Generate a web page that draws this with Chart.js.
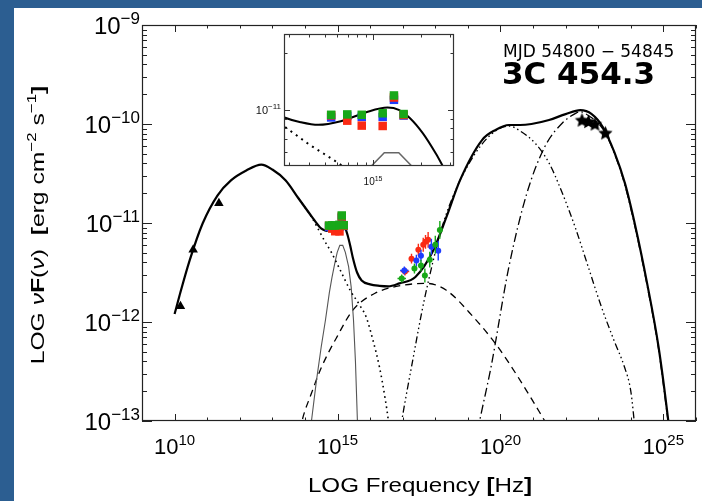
<!DOCTYPE html>
<html>
<head>
<meta charset="utf-8">
<title>3C 454.3 SED</title>
<style>
  html, body { margin: 0; padding: 0; background: #2c5e91; }
  #wrap { position: relative; width: 702px; height: 501px; overflow: hidden; }
  #main { position: absolute; left: 0; top: 0; }
  #inset { position: absolute; left: 250px; top: 28px; }
</style>
<script src="https://cdn.jsdelivr.net/npm/chart.js@4/dist/chart.umd.min.js"></script>
</head>
<body>
<div id="wrap">
  <canvas id="main" width="702" height="501"></canvas>
  <canvas id="inset" width="210" height="165"></canvas>
</div>
<script>
// ---- Observations (log10 of frequency [Hz] and of nuF(nu) [erg cm^-2 s^-1]) ----
const radioLogNu = [10.18, 10.57, 11.36];
const radioLogF  = [-11.84, -11.27, -10.80];

const latLogNu = [22.50, 22.70, 22.90, 23.22];
const latLogF  = [-9.96, -9.975, -10.00, -10.09];

// UVOT filters V, B, U, UVW1, UVM2, UVW2
const uvotLogNu     = [14.74, 14.84, 14.93, 15.06, 15.13, 15.19];
const uvotGreenLogF = [-11.026, -11.024, -11.026, -11.018, -10.924, -11.022];
const uvotRedLogF   = [-11.029, -11.057, -11.083, -11.085, -10.935, -11.027];
const uvotBlueLogF  = [-11.040, -11.032, -11.037, -11.037, -10.947, -11.030];

// XRT spectra (three epochs)
const xrtRedLogNu   = [17.07, 17.27, 17.48, 17.63, 17.70, 17.78];
const xrtRedLogF    = [-11.49, -11.36, -11.27, -11.22, -11.19, -11.17];
const xrtRedErrF    = [0.04, 0.05, 0.06, 0.07, 0.07, 0.08];
const xrtRedErrNu   = [0.13, 0.06, 0.04, 0.03, 0.03, 0.03];
const xrtBlueLogNu  = [17.05, 17.42, 17.56, 17.88, 18.09];
const xrtBlueLogF   = [-11.48, -11.38, -11.33, -11.24, -11.28];
const xrtBlueErrF   = [0.04, 0.06, 0.06, 0.08, 0.10];
const xrtBlueErrNu  = [0.13, 0.05, 0.04, 0.03, 0.03];
const xrtGreenLogNu = [16.97, 17.36, 17.56, 17.68, 17.83, 18.00, 18.14];
const xrtGreenLogF  = [-11.56, -11.46, -11.43, -11.53, -11.37, -11.22, -11.07];
const xrtGreenErrF  = [0.04, 0.05, 0.06, 0.07, 0.08, 0.09, 0.09];
const xrtGreenErrNu = [0.13, 0.05, 0.04, 0.03, 0.03, 0.03, 0.03];

// ---- Model components ----
const totalLogNu = [10.0, 10.15, 10.46, 10.86, 11.32, 11.73, 12.2, 12.66, 13.0, 13.41, 13.8, 14.22, 14.45, 14.55, 14.66, 14.8, 14.95, 15.09, 15.16, 15.23, 15.31, 15.39, 15.47, 15.6, 15.74, 16.0, 16.29, 16.56, 16.9, 17.39, 17.94, 18.34, 18.76, 19.44, 19.85, 20.26, 20.6, 20.95, 21.49, 22.0, 22.45, 22.8, 23.14, 23.5, 23.82, 24.15, 24.5, 24.85, 25.15, 25.25];
const totalLogF  = [-11.92, -11.735, -11.38, -11.005, -10.72, -10.57, -10.47, -10.41, -10.46, -10.57, -10.75, -10.94, -11.04, -11.065, -11.079, -11.06, -11.015, -10.988, -11.0, -11.044, -11.124, -11.23, -11.35, -11.5, -11.58, -11.62, -11.635, -11.64, -11.61, -11.545, -11.275, -10.94, -10.567, -10.16, -10.06, -10.01, -10.01, -10.0, -9.96, -9.9, -9.86, -9.9, -10.03, -10.29, -10.6, -11.05, -11.61, -12.25, -13.0, -13.3];

const syncLogNu = [13.8, 14.22, 14.45, 14.6, 14.8, 15.03, 15.39, 15.7, 15.88, 16.1, 16.29, 16.45, 16.56, 16.62];
const syncLogF  = [-10.75, -10.95, -11.088, -11.18, -11.29, -11.44, -11.68, -11.84, -11.95, -12.2, -12.46, -12.75, -13.0, -13.2];

const diskLogNu = [14.2, 14.35, 14.5, 14.63, 14.75, 14.83, 14.92, 14.99, 15.07, 15.16, 15.24, 15.34, 15.42, 15.49, 15.55, 15.61, 15.63];
const diskLogF  = [-13.0, -12.6, -12.25, -11.98, -11.7, -11.55, -11.4, -11.296, -11.226, -11.226, -11.296, -11.44, -11.65, -11.98, -12.4, -13.0, -13.2];

const sscLogNu = [13.85, 13.91, 14.2, 14.51, 15.0, 15.47, 16.15, 16.98, 17.73, 18.34, 19.17, 19.85, 20.54, 21.36, 21.45];
const sscLogF  = [-13.1, -13.0, -12.72, -12.455, -12.14, -11.88, -11.71, -11.63, -11.61, -11.68, -11.95, -12.22, -12.556, -13.0, -13.05];

const ecDiskLogNu = [16.9, 16.97, 17.3, 17.66, 18.21, 18.62, 19.0, 19.44, 19.85, 20.26, 20.6, 21.08, 21.5, 21.9, 22.3, 22.7, 23.1, 23.5, 23.8, 24.0, 24.12];
const ecDiskLogF  = [-13.15, -13.0, -12.4, -11.78, -11.04, -10.67, -10.42, -10.2, -10.07, -10.02, -10.07, -10.2, -10.4, -10.7, -11.05, -11.45, -11.85, -12.2, -12.45, -12.7, -13.05];

const ecBlrLogNu = [19.3, 19.36, 19.71, 20.26, 20.81, 21.36, 21.9, 22.32, 22.45, 22.7, 23.14, 23.5, 23.82, 24.15, 24.5, 24.85, 25.15, 25.22];
const ecBlrLogF  = [-13.1, -13.0, -12.455, -11.44, -10.70, -10.23, -9.99, -9.89, -9.876, -9.915, -10.05, -10.3, -10.62, -11.07, -11.63, -12.27, -13.02, -13.2];

// ---- Axis ranges (log10) ----
const mainXRange = [9, 26];
const mainYRange = [-13, -9];
const insetXRange = [14.447, 15.503];
const insetYRange = [-11.296, -10.6];
const xMajorDecades = [10, 15, 20, 25];

// ---- Styling ----
const RED = '#fa2a14', GREEN = '#18a818', BLUE = '#1e3cff';
const SANS = '"Liberation Sans", Arial, sans-serif';

const toPts = (lx, ly) => lx.map((v, i) => ({ x: Math.pow(10, v), y: Math.pow(10, ly[i]) }));

function makeStar(R) {
  const c = document.createElement('canvas');
  const s = Math.ceil(2 * R + 2);
  c.width = s; c.height = s;
  const g = c.getContext('2d');
  g.translate(s / 2, s / 2 + 0.6);
  g.beginPath();
  for (let k = 0; k < 10; k++) {
    const r = k % 2 === 0 ? R : R * 0.47;
    const a = -Math.PI / 2 + k * Math.PI / 5;
    g.lineTo(r * Math.cos(a), r * Math.sin(a));
  }
  g.closePath();
  g.fillStyle = '#000';
  g.fill();
  return c;
}
const starImg = makeStar(7.5);

function curve(lx, ly, extra) {
  return Object.assign({
    data: toPts(lx, ly), showLine: true, pointRadius: 0, borderColor: '#000',
    borderWidth: 1.3, fill: false, cubicInterpolationMode: 'monotone', order: 20
  }, extra);
}
function marks(lx, ly, extra) {
  return Object.assign({
    data: toPts(lx, ly), showLine: false, pointRadius: 6, pointBorderWidth: 0,
    borderWidth: 0, order: 2
  }, extra);
}
function xrt(lx, ly, ef, en, color, order) {
  return Object.assign(marks(lx, ly, {
    pointStyle: 'circle', pointRadius: 3, backgroundColor: color, borderColor: color, order
  }), { errLogNu: lx, errLogF: ly, errF: ef, errNu: en });
}

// Rich text: sequence of segments with own font and baseline shift
function rich(ctx, segs, x, y, align) {
  let w = 0;
  segs.forEach(s => { ctx.font = s.f; s.w = ctx.measureText(s.t).width; w += s.w; });
  let cx = align === 'right' ? x - w : align === 'center' ? x - w / 2 : x;
  ctx.textAlign = 'left';
  ctx.textBaseline = 'alphabetic';
  segs.forEach(s => { ctx.font = s.f; ctx.fillText(s.t, cx, y + (s.dy || 0)); cx += s.w; });
}
function power(exp, mainPx, supPx, raise) {
  return [
    { t: '10', f: mainPx + 'px ' + SANS },
    { t: String(exp).replace('-', '\u2212'), f: supPx + 'px ' + SANS, dy: -raise }
  ];
}

// Error bars drawn just before their point set
const errorBars = {
  id: 'errorBars',
  beforeDatasetDraw(chart, args) {
    const ds = chart.data.datasets[args.index];
    if (!ds.errF) return;
    const ctx = chart.ctx, xs = chart.scales.x, ys = chart.scales.y;
    ctx.save();
    ctx.strokeStyle = ds.backgroundColor;
    ctx.lineWidth = 1.4;
    ds.errLogNu.forEach((lx, i) => {
      const ly = ds.errLogF[i];
      const px = xs.getPixelForValue(Math.pow(10, lx));
      const py = ys.getPixelForValue(Math.pow(10, ly));
      ctx.beginPath();
      ctx.moveTo(px, ys.getPixelForValue(Math.pow(10, ly - ds.errF[i])));
      ctx.lineTo(px, ys.getPixelForValue(Math.pow(10, ly + ds.errF[i])));
      ctx.moveTo(xs.getPixelForValue(Math.pow(10, lx - ds.errNu[i])), py);
      ctx.lineTo(xs.getPixelForValue(Math.pow(10, lx + ds.errNu[i])), py);
      ctx.stroke();
    });
    ctx.restore();
  }
};

// Panel, frame, ticks and labels of the main plot
const mainDecor = {
  id: 'mainDecor',
  beforeDraw(chart) {
    const ctx = chart.ctx;
    ctx.save();
    ctx.fillStyle = '#2c5e91';
    ctx.fillRect(0, 0, chart.width, chart.height);
    ctx.fillStyle = '#ffffff';
    ctx.fillRect(14, 8, chart.width - 14, chart.height - 8);
    ctx.restore();
  },
  afterDraw(chart) {
    const ctx = chart.ctx, a = chart.chartArea, xs = chart.scales.x, ys = chart.scales.y;
    ctx.save();
    ctx.strokeStyle = '#222';
    ctx.lineWidth = 1.2;
    ctx.strokeRect(a.left + 0.5, a.top + 0.5, a.right - a.left - 1, a.bottom - a.top - 1);
    ctx.lineWidth = 1;
    ctx.beginPath();
    for (let e = mainXRange[0]; e <= mainXRange[1]; e++) {
      const x = Math.round(xs.getPixelForValue(Math.pow(10, e))) + 0.5;
      const len = xMajorDecades.includes(e) ? 7 : 3.5;
      ctx.moveTo(x, a.bottom); ctx.lineTo(x, a.bottom - len);
      ctx.moveTo(x, a.top); ctx.lineTo(x, a.top + len);
    }
    for (let e = mainYRange[0]; e < mainYRange[1]; e++) {
      for (let m = 1; m <= 9; m++) {
        const y = Math.round(ys.getPixelForValue(m * Math.pow(10, e))) + 0.5;
        const len = m === 1 ? 10 : 5;
        ctx.moveTo(a.left, y); ctx.lineTo(a.left + len, y);
        ctx.moveTo(a.right, y); ctx.lineTo(a.right - len, y);
      }
    }
    ctx.stroke();

    ctx.fillStyle = '#000';
    for (let e = mainYRange[0]; e <= mainYRange[1]; e++) {
      const y = ys.getPixelForValue(Math.pow(10, e));
      rich(ctx, power(e, 24, 17, 10), 140, y + 8.5, 'right');
    }
    xMajorDecades.forEach(e => {
      const x = xs.getPixelForValue(Math.pow(10, e));
      rich(ctx, power(e, 22, 15, 9), x, 453.5, 'center');
    });

    // x-axis title
    ctx.save();
    ctx.translate(420, 492);
    ctx.scale(1.15, 1);
    const XF = '21px ' + SANS, XB = 'bold 21px ' + SANS;
    rich(ctx, [{ t: 'LOG Frequency ', f: XF }, { t: '[', f: XB }, { t: 'Hz', f: XF }, { t: ']', f: XB }], 0, 0, 'center');
    ctx.restore();

    // y-axis title
    ctx.save();
    ctx.translate(44, 225);
    ctx.rotate(-Math.PI / 2);
    ctx.scale(1.3, 1);
    const YF = '19px ' + SANS, YI = 'italic 19px ' + SANS, YB = 'bold 19px ' + SANS, YS = '13px ' + SANS;
    rich(ctx, [
      { t: 'LOG ', f: YF }, { t: '\u03bd', f: YI }, { t: 'F', f: YB }, { t: '(', f: YF },
      { t: '\u03bd', f: YI }, { t: ')', f: YF }, { t: '  ', f: YF }, { t: '[', f: YB },
      { t: 'erg cm', f: YF }, { t: '\u22122', f: YS, dy: -8 }, { t: ' s', f: YF },
      { t: '\u22121', f: YS, dy: -8 }, { t: ']', f: YB }
    ], 0, 0, 'center');
    ctx.restore();

    // source and epoch
    ctx.font = '17px "DejaVu Sans", sans-serif';
    ctx.textAlign = 'left';
    ctx.fillText('MJD 54800 \u2212 54845', 503, 56.5);
    ctx.font = 'bold 31px "DejaVu Sans", sans-serif';
    ctx.fillText('3C 454.3', 502, 83.5);
    ctx.restore();
  }
};

const mainChart = new Chart(document.getElementById('main'), {
  type: 'scatter',
  data: {
    datasets: [
      curve(totalLogNu, totalLogF, { borderWidth: 2.2, order: 20 }),
      curve(syncLogNu, syncLogF, { borderDash: [1.6, 3.6], borderWidth: 1.6, order: 21 }),
      curve(diskLogNu, diskLogF, { borderColor: '#555', borderWidth: 1.1, cubicInterpolationMode: 'default', tension: 0, order: 22 }),
      curve(sscLogNu, sscLogF, { borderDash: [7, 5], order: 23 }),
      curve(ecDiskLogNu, ecDiskLogF, { borderDash: [7, 3, 1.5, 3, 1.5, 3, 1.5, 3], order: 24 }),
      curve(ecBlrLogNu, ecBlrLogF, { borderDash: [9, 3.5, 1.5, 3.5], order: 25 }),
      xrt(xrtGreenLogNu, xrtGreenLogF, xrtGreenErrF, xrtGreenErrNu, GREEN, 5),
      xrt(xrtBlueLogNu, xrtBlueLogF, xrtBlueErrF, xrtBlueErrNu, BLUE, 6),
      xrt(xrtRedLogNu, xrtRedLogF, xrtRedErrF, xrtRedErrNu, RED, 7),
      marks(uvotLogNu, uvotBlueLogF, { pointStyle: 'rect', backgroundColor: BLUE, order: 10 }),
      marks(uvotLogNu, uvotRedLogF, { pointStyle: 'rect', backgroundColor: RED, order: 9 }),
      marks(uvotLogNu, uvotGreenLogF, { pointStyle: 'rect', backgroundColor: GREEN, order: 8 }),
      marks(radioLogNu, radioLogF, { pointStyle: 'triangle', pointRadius: 5.5, backgroundColor: '#000', order: 1 }),
      marks(latLogNu, latLogF, { pointStyle: starImg, backgroundColor: '#000', order: 1 })
    ]
  },
  options: {
    responsive: false, animation: false, devicePixelRatio: 1, events: [],
    layout: { padding: { left: 142, top: 25, right: 3, bottom: 80 } },
    plugins: { legend: { display: false }, tooltip: { enabled: false } },
    scales: {
      x: { type: 'logarithmic', min: Math.pow(10, mainXRange[0]), max: Math.pow(10, mainXRange[1]), display: false },
      y: { type: 'logarithmic', min: Math.pow(10, mainYRange[0]), max: Math.pow(10, mainYRange[1]), display: false }
    }
  },
  plugins: [mainDecor, errorBars]
});

// ---- Zoomed optical/UV panel ----
const insetDecor = {
  id: 'insetDecor',
  beforeDraw(chart) {
    const ctx = chart.ctx, a = chart.chartArea;
    ctx.save();
    ctx.fillStyle = '#ffffff';
    ctx.fillRect(a.left, a.top, a.right - a.left, a.bottom - a.top);
    ctx.restore();
  },
  afterDraw(chart) {
    const ctx = chart.ctx, a = chart.chartArea, xs = chart.scales.x, ys = chart.scales.y;
    ctx.save();
    ctx.strokeStyle = '#333';
    ctx.lineWidth = 1.2;
    ctx.strokeRect(a.left + 0.5, a.top + 0.5, a.right - a.left - 1, a.bottom - a.top - 1);
    ctx.lineWidth = 1;
    ctx.beginPath();
    [3e14, 4e14, 5e14, 6e14, 7e14, 8e14, 9e14, 1e15, 2e15, 3e15].forEach(v => {
      const x = xs.getPixelForValue(v);
      if (x < a.left + 1 || x > a.right - 1) return;
      const px = Math.round(x) + 0.5, len = v === 1e15 ? 6 : 3.5;
      ctx.moveTo(px, a.bottom); ctx.lineTo(px, a.bottom - len);
      ctx.moveTo(px, a.top); ctx.lineTo(px, a.top + len);
    });
    [6e-12, 7e-12, 8e-12, 9e-12, 1e-11, 2e-11].forEach(v => {
      const py = Math.round(ys.getPixelForValue(v)) + 0.5, len = v === 1e-11 ? 6 : 3.5;
      ctx.moveTo(a.left, py); ctx.lineTo(a.left + len, py);
      ctx.moveTo(a.right, py); ctx.lineTo(a.right - len, py);
    });
    ctx.stroke();
    ctx.fillStyle = '#111';
    rich(ctx, power(-11, 11, 8, 5), a.left - 3, ys.getPixelForValue(1e-11) + 4, 'right');
    rich(ctx, power(15, 10, 7, 4), xs.getPixelForValue(1e15), a.bottom + 19, 'center');
    ctx.restore();
  }
};

const insetChart = new Chart(document.getElementById('inset'), {
  type: 'scatter',
  data: {
    datasets: [
      curve(totalLogNu, totalLogF, { borderWidth: 2, order: 20 }),
      curve(syncLogNu, syncLogF, { borderDash: [2, 4.6], borderWidth: 2, order: 21 }),
      curve(diskLogNu, diskLogF, { borderColor: '#666', borderWidth: 1.5, cubicInterpolationMode: 'default', tension: 0, order: 22 }),
      marks(uvotLogNu, uvotBlueLogF, { pointStyle: 'rect', backgroundColor: BLUE, order: 10 }),
      marks(uvotLogNu, uvotRedLogF, { pointStyle: 'rect', backgroundColor: RED, order: 9 }),
      marks(uvotLogNu, uvotGreenLogF, { pointStyle: 'rect', backgroundColor: GREEN, order: 8 })
    ]
  },
  options: {
    responsive: false, animation: false, devicePixelRatio: 1, events: [],
    layout: { padding: { left: 34, top: 6, right: 6, bottom: 27 } },
    plugins: { legend: { display: false }, tooltip: { enabled: false } },
    scales: {
      x: { type: 'logarithmic', min: Math.pow(10, insetXRange[0]), max: Math.pow(10, insetXRange[1]), display: false },
      y: { type: 'logarithmic', min: Math.pow(10, insetYRange[0]), max: Math.pow(10, insetYRange[1]), display: false }
    }
  },
  plugins: [insetDecor]
});
</script>
</body>
</html>
